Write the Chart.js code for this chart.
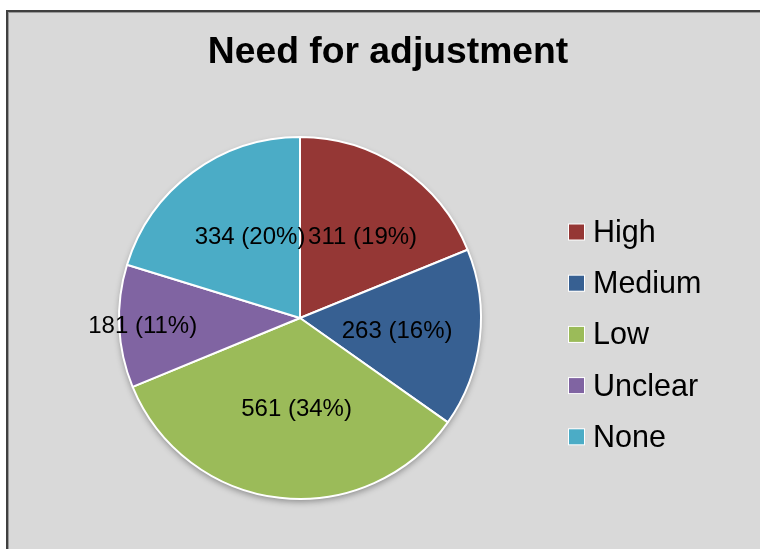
<!DOCTYPE html>
<html>
<head>
<meta charset="utf-8">
<title>Need for adjustment</title>
<script src="https://cdn.jsdelivr.net/npm/chart.js@4.4.1/dist/chart.umd.min.js"></script>
<style>
  html, body { margin: 0; padding: 0; background: #ffffff; }
  #wrap { width: 760px; height: 549px; }
</style>
</head>
<body>
<div id="wrap"><canvas id="pie" width="760" height="549"></canvas></div>
<script>
// Responses per category
const categories = ['High', 'Medium', 'Low', 'Unclear', 'None'];
const counts = [311, 263, 561, 181, 334];
const chartTitle = 'Need for adjustment';

const sliceColors = ['#953735', '#376092', '#9bbb59', '#8064a2', '#4bacc6'];
const FONT = '"Liberation Sans", Arial, Helvetica, sans-serif';

// Gray panel with a dark frame on the top and left edges
const panel = {
  id: 'panel',
  beforeDraw(chart) {
    const { ctx, width, height } = chart;
    ctx.save();
    ctx.fillStyle = '#ffffff';
    ctx.fillRect(0, 0, width, height);
    ctx.fillStyle = '#d9d9d9';
    ctx.fillRect(6, 10, width, height);
    ctx.fillStyle = '#404040';
    ctx.fillRect(6, 10, width, 2);
    ctx.fillRect(6, 10, 2, height);
    ctx.fillStyle = '#9a9a9a';
    ctx.fillRect(8, 12, width, 1);
    ctx.fillRect(8, 12, 1, height);
    ctx.restore();
  },
  // soft shadow under the pie
  beforeDatasetsDraw(chart) {
    const arc = chart.getDatasetMeta(0).data[0];
    if (!arc) return;
    const { x, y, outerRadius } = arc.getProps(['x', 'y', 'outerRadius'], true);
    const { ctx } = chart;
    ctx.save();
    ctx.shadowColor = 'rgba(0,0,0,0.35)';
    ctx.shadowBlur = 6;
    ctx.shadowOffsetY = 3;
    ctx.fillStyle = '#d9d9d9';
    ctx.beginPath();
    ctx.arc(x, y, outerRadius, 0, Math.PI * 2);
    ctx.fill();
    ctx.restore();
  }
};

// Title, value labels and the legend
const annotate = {
  id: 'annotate',
  afterDatasetsDraw(chart, args, opts) {
    const { ctx } = chart;
    const ds = chart.data.datasets[0];
    const values = ds.data;
    const total = values.reduce((a, b) => a + b, 0);
    const meta = chart.getDatasetMeta(0);

    ctx.save();
    // title
    ctx.fillStyle = '#000000';
    ctx.font = 'bold 37.3px ' + FONT;
    ctx.textAlign = 'center';
    ctx.textBaseline = 'middle';
    ctx.fillText(chartTitle, 388, 53);

    // value labels inside the slices
    ctx.font = '24px ' + FONT;
    meta.data.forEach((arc, i) => {
      const p = arc.getProps(['x', 'y', 'startAngle', 'endAngle', 'outerRadius'], true);
      const mid = (p.startAngle + p.endAngle) / 2;
      const r = p.outerRadius * opts.labelRadius[i];
      const lx = p.x + Math.cos(mid) * r + opts.labelShift[i][0];
      const ly = p.y + Math.sin(mid) * r + opts.labelShift[i][1];
      const pct = Math.round(values[i] / total * 100);
      ctx.fillText(values[i] + ' (' + pct + '%)', lx, ly);
    });

    // legend
    ctx.font = '30.5px ' + FONT;
    ctx.textAlign = 'left';
    chart.data.labels.forEach((label, i) => {
      const cy = opts.legendTop + i * opts.legendStep;
      ctx.fillStyle = '#ffffff';
      ctx.fillRect(568, cy - 8.5, 17, 17);
      ctx.fillStyle = ds.backgroundColor[i];
      ctx.fillRect(569, cy - 7.5, 15, 15);
      ctx.fillStyle = '#000000';
      ctx.fillText(label, 593, cy + 1.5);
    });
    ctx.restore();
  }
};

new Chart(document.getElementById('pie'), {
  type: 'pie',
  data: {
    labels: categories,
    datasets: [{
      data: counts,
      backgroundColor: sliceColors,
      borderColor: '#ffffff',
      borderWidth: 2,
      radius: 181
    }]
  },
  options: {
    responsive: false,
    animation: false,
    devicePixelRatio: 1,
    layout: { padding: { left: 20, right: 180, top: 100, bottom: 13 } },
    plugins: {
      legend: { display: false },
      title: { display: false },
      tooltip: { enabled: false },
      annotate: {
        labelRadius: [0.57, 0.54, 0.49, 0.87, 0.53],
        labelShift: [[5, 4.5], [0, 2.5], [6.5, 3], [0, 1], [7, -3]],
        legendTop: 232,
        legendStep: 51.2
      }
    }
  },
  plugins: [panel, annotate]
});
</script>
</body>
</html>
